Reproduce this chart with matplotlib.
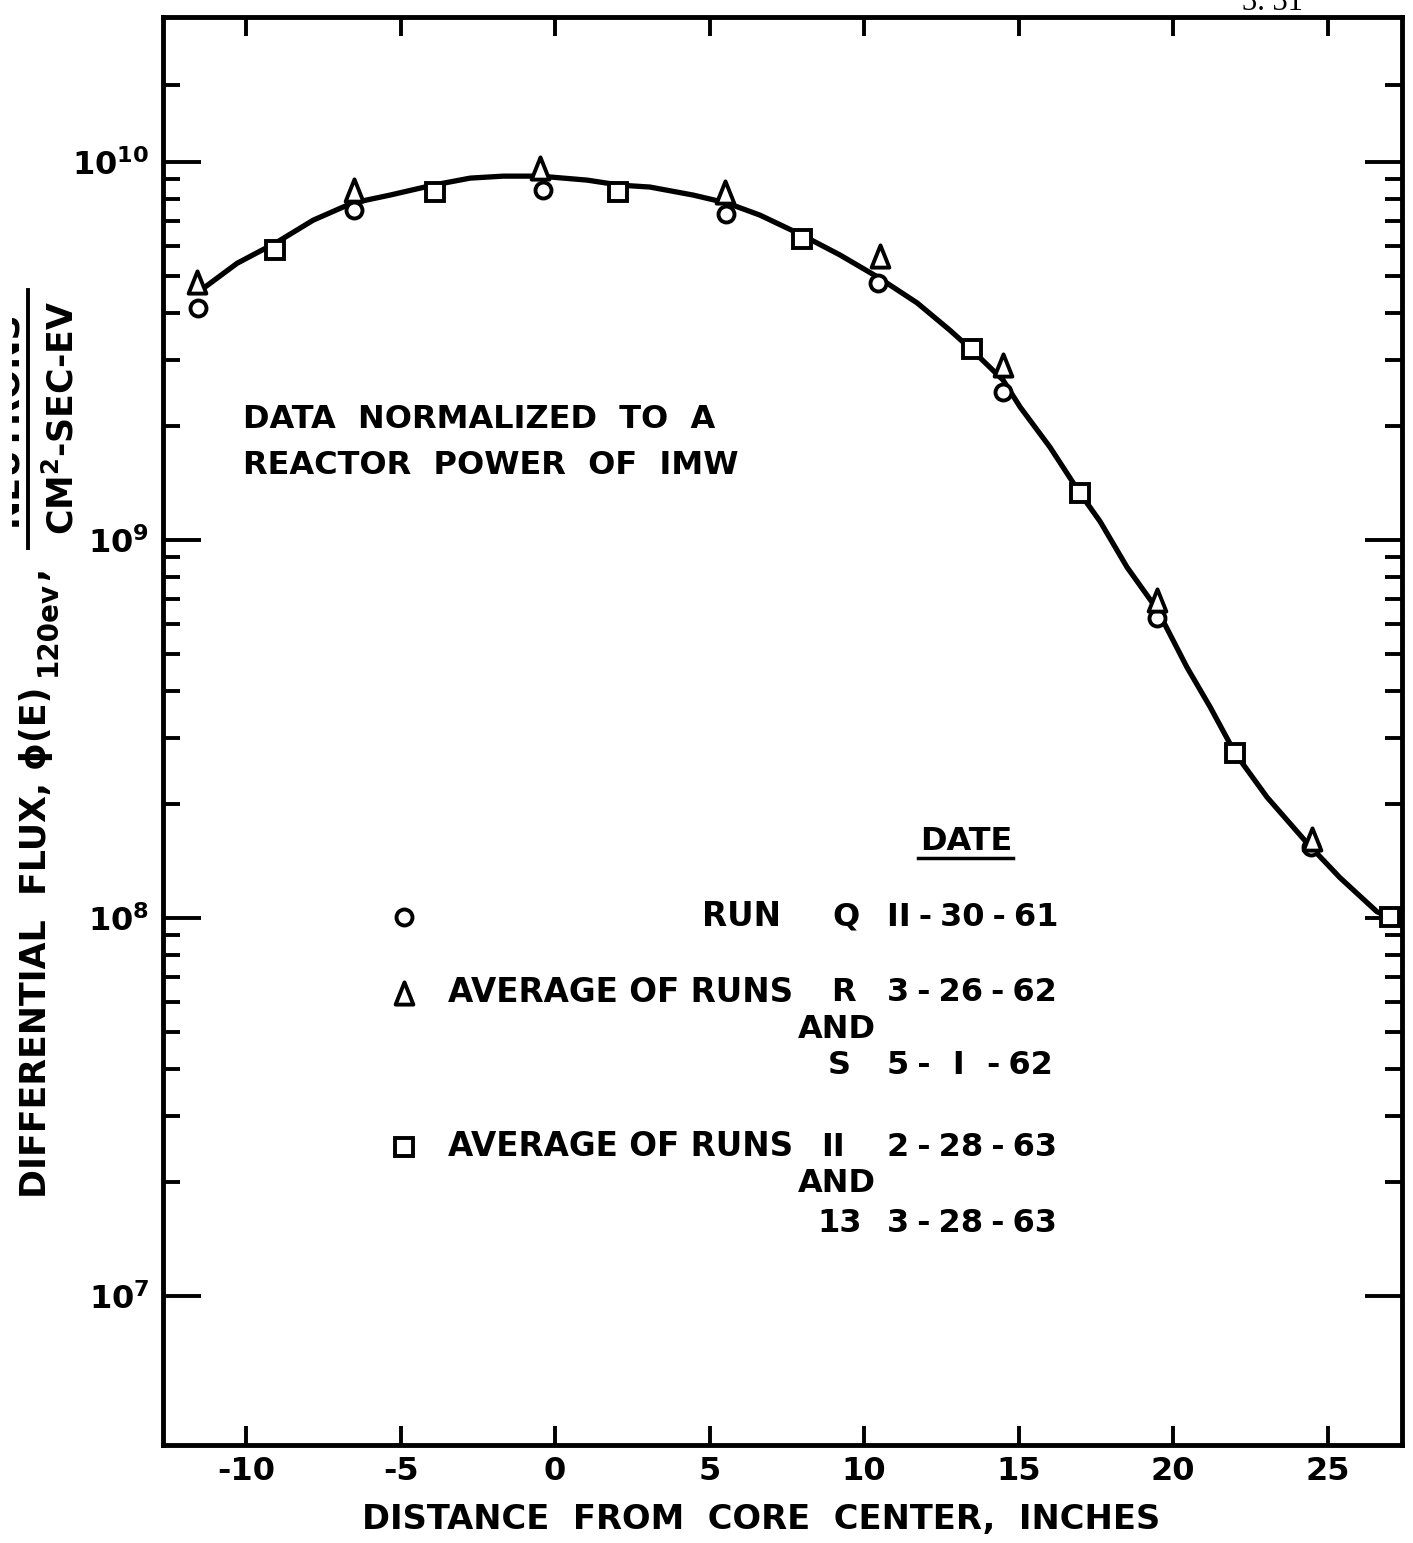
import matplotlib
matplotlib.use("Agg")
import matplotlib.pyplot as plt
from matplotlib.path import Path
from matplotlib.ticker import FixedLocator, NullFormatter
from matplotlib.transforms import Bbox, TransformedBbox

plt.rcParams['font.family'] = ['DejaVu Sans']
plt.rcParams['font.weight'] = 'bold'
plt.rcParams['mathtext.fontset'] = 'dejavusans'
plt.rcParams['mathtext.default'] = 'bf'

# Run Q 11-30-61 (circles)
run_q_x = [-11.55, -6.50, -0.39, 5.53, 10.45, 14.50, 19.48, 24.47]
run_q_y = [4.11e9, 7.46e9, 8.44e9, 7.29e9, 4.79e9, 2.46e9, 6.22e8, 1.54e8]

# Average of runs R and S (triangles)
run_rs_x = [-11.59, -6.50, -0.49, 5.50, 10.52, 14.50, 19.48, 24.50]
run_rs_y = [4.81e9, 8.44e9, 9.64e9, 8.33e9, 5.64e9, 2.90e9, 6.94e8, 1.62e8]

# Average of runs 11 and 13 (squares)
run_1113_x = [-9.06, -3.88, 2.04, 7.99, 13.50, 16.99, 22.01, 27.02]
run_1113_y = [5.85e9, 8.33e9, 8.33e9, 6.26e9, 3.20e9, 1.33e9, 2.73e8, 1.006e8]

# fitted curve through the measurements
curve_x = [-11.55, -10.29, -9.00, -7.83, -6.57, -5.34, -3.95, -2.75, -1.68, -0.49,
           1.04, 2.10, 3.07, 4.47, 5.57, 6.63, 7.99, 9.22, 10.45, 11.72, 12.78,
           13.50, 14.50, 15.05, 16.02, 16.99, 17.64, 18.51, 19.48, 20.45, 21.20,
           22.01, 23.04, 24.34, 25.40, 26.60, 27.02]
curve_y = [4.53e9, 5.40e9, 6.14e9, 7.02e9, 7.79e9, 8.18e9, 8.69e9, 9.07e9, 9.18e9,
           9.18e9, 8.96e9, 8.69e9, 8.59e9, 8.18e9, 7.79e9, 7.24e9, 6.41e9, 5.68e9,
           4.96e9, 4.24e9, 3.59e9, 3.18e9, 2.65e9, 2.25e9, 1.76e9, 1.33e9, 1.12e9,
           8.48e8, 6.57e8, 4.61e8, 3.62e8, 2.73e8, 2.09e8, 1.58e8, 1.28e8, 1.04e8,
           1.006e8]

x_ticks = [-10, -5, 0, 5, 10, 15, 20, 25]
x_tick_labels = ['-10', '-5', '0', '5', '10', '15', '20', '25']
y_ticks = [1e7, 1e8, 1e9, 1e10]
y_tick_labels = [r'$10^{7}$', r'$10^{8}$', r'$10^{9}$', r'$10^{10}$']
y_minor = [m * 10 ** e for e in (7, 8, 9) for m in range(2, 10)] + [1.6e10]

# tall narrow open triangle, like a hand-lettered delta
delta = Path([(-0.8, -1), (0.8, -1), (0, 1), (-0.8, -1)], closed=True)

W, H = 1413, 1543
fig = plt.figure(figsize=(W / 100, H / 100), dpi=100)


def fx(px):
    return px / W


def fy(py):
    return 1 - py / H


ax = fig.add_axes([fx(163), fy(1445), fx(1402) - fx(163), fy(17) - fy(1445)])
ax.set_yscale('log')
ax.set_xlim(-12.69, 27.41)
ax.set_ylim(4.04e6, 2.42e10)

ax.plot(curve_x, curve_y, color='black', lw=3.8, zorder=2,
        solid_joinstyle='round', solid_capstyle='round')
mk = dict(linestyle='none', mfc='white', mec='black', mew=2.8, zorder=3, clip_on=False)
ax.plot(run_q_x, run_q_y, marker='o', ms=11.5, **mk)
ax.plot(run_rs_x, run_rs_y, marker=delta, ms=16, **mk)
ax.plot(run_1113_x, run_1113_y, marker='s', ms=12.5, **mk)

for s in ax.spines.values():
    s.set_linewidth(3.5)

ax.xaxis.set_major_locator(FixedLocator(x_ticks))
ax.set_xticklabels(x_tick_labels)
ax.yaxis.set_major_locator(FixedLocator(y_ticks))
ax.set_yticklabels(y_tick_labels)
ax.yaxis.set_minor_locator(FixedLocator(y_minor))
ax.yaxis.set_minor_formatter(NullFormatter())
ax.xaxis.set_minor_locator(FixedLocator([]))

ax.tick_params(axis='x', which='major', direction='in', length=14, width=2.8,
               top=True, labelsize=23, pad=8)
ax.tick_params(axis='y', which='major', direction='in', length=27, width=2.8,
               right=True, labelsize=23, pad=10)
ax.tick_params(axis='y', which='minor', direction='in', length=12, width=2.8,
               right=True)

# axis titles
fig.text(fx(761), fy(1520), 'DISTANCE  FROM  CORE  CENTER,  INCHES',
         ha='center', va='center', fontsize=24.3)

rot = dict(rotation=90, rotation_mode='anchor', va='center')
fig.text(fx(36), fy(1198), 'DIFFERENTIAL  FLUX, \u03d5(E)', ha='left',
         fontsize=25, **rot)
fig.text(fx(48), fy(676), '120ev', ha='left', fontsize=20, **rot)
fig.text(fx(34), fy(580), ',', ha='left', fontsize=25, **rot)

fig.add_artist(plt.Line2D([fx(28), fx(28)], [fy(548), fy(290)], color='black', lw=2.8))
fig.text(fx(62), fy(418), r'CM$^{2}$-SEC-EV', ha='center', fontsize=25, **rot)
numer = fig.text(fx(16), fy(418), 'NEUTRONS', rotation=90, rotation_mode='anchor',
                 ha='center', va='baseline', fontsize=25)
numer.set_clip_box(TransformedBbox(Bbox([[12 / W, 0], [1, 1]]), fig.transFigure))
numer.set_clip_on(True)

fig.text(fx(1273), fy(2), '3. 31', ha='center', va='center', fontsize=22,
         family='Liberation Serif', weight='normal')

# annotation and key
fig.text(fx(243), fy(420), 'DATA  NORMALIZED  TO  A', ha='left', va='center', fontsize=23)
fig.text(fx(243), fy(465), 'REACTOR  POWER  OF  IMW', ha='left', va='center', fontsize=23)

fig.text(fx(966), fy(842), 'DATE', ha='center', va='center', fontsize=23)
fig.add_artist(plt.Line2D([fx(918), fx(1013)], [fy(858), fy(858)], color='black', lw=2.5))

sp = '\u2005'
key = [
    ('o', 11.5, 917, 'RUN', 742, 'Q', 846, 'II' + sp + '-' + sp + '30' + sp + '-' + sp + '61'),
    (delta, 16, 993, 'AVERAGE OF RUNS', 448, 'R', 843, '3' + sp + '-' + sp + '26' + sp + '-' + sp + '62'),
    ('s', 12.5, 1147, 'AVERAGE OF RUNS', 448, 'II', 833, '2' + sp + '-' + sp + '28' + sp + '-' + sp + '63'),
]
for m, ms, py, lab, lx, run, rx, date in key:
    fig.add_artist(plt.Line2D([fx(404)], [fy(py)], marker=m, ms=ms, mfc='white',
                              mec='black', mew=2.8, linestyle='none'))
    ha = 'center' if lab == 'RUN' else 'left'
    fig.text(fx(lx), fy(py), lab, ha=ha, va='center', fontsize=23.5)
    fig.text(fx(rx), fy(py), run, ha='center', va='center', fontsize=23)
    fig.text(fx(887), fy(py), date, ha='left', va='center', fontsize=23)

fig.text(fx(837), fy(1030), 'AND', ha='center', va='center', fontsize=23)
fig.text(fx(839), fy(1065), 'S', ha='center', va='center', fontsize=23)
fig.text(fx(887), fy(1065), '5' + sp + '-  I  -' + sp + '62', ha='left', va='center', fontsize=23)
fig.text(fx(837), fy(1183), 'AND', ha='center', va='center', fontsize=23)
fig.text(fx(840), fy(1223), '13', ha='center', va='center', fontsize=23)
fig.text(fx(887), fy(1223), '3' + sp + '-' + sp + '28' + sp + '-' + sp + '63', ha='left',
         va='center', fontsize=23)

fig.savefig('out.png', dpi=100, facecolor='white')
